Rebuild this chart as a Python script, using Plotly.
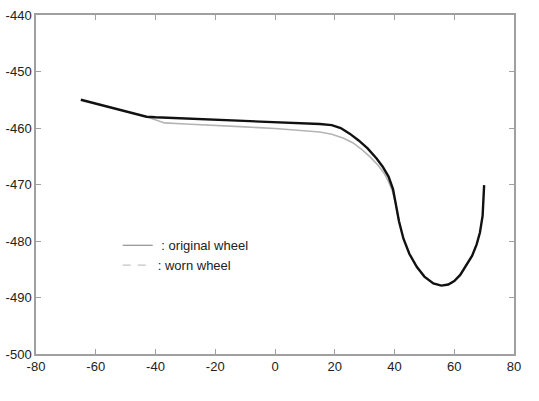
import plotly.graph_objects as go

# original wheel profile (black, thick)
x_orig = [-65, -60, -55, -50, -46, -43, -40, -30, -20, -10, 0, 8, 15, 19, 22, 25, 28, 31, 34, 36, 38, 39.5, 40.5, 41.5, 43, 45, 47.5, 50, 53, 55.7, 58, 60, 62, 64, 66, 67.5, 68.6, 69.5, 70]
y_orig = [-455.0, -455.7, -456.4, -457.1, -457.7, -458.0, -458.1, -458.3, -458.5, -458.7, -458.9, -459.1, -459.3, -459.5, -460.0, -461.0, -462.2, -463.6, -465.4, -466.8, -468.6, -470.8, -473.5, -476.5, -479.6, -482.3, -484.6, -486.3, -487.5, -487.9, -487.7, -487.1, -486.0, -484.4, -482.6, -480.6, -478.5, -475.5, -470.1]

# worn wheel profile (light gray)
x_worn = [-43, -40, -37, -30, -20, -10, 0, 8, 15, 19, 23, 26, 29, 32, 34.5, 36.5, 38, 39.3, 40.5, 41.5]
y_worn = [-458.0, -458.6, -459.1, -459.3, -459.5, -459.8, -460.1, -460.4, -460.7, -461.1, -461.8, -462.6, -463.8, -465.2, -466.6, -468.0, -469.5, -471.2, -473.6, -476.5]

x_ticks = [-80, -60, -40, -20, 0, 20, 40, 60, 80]
y_ticks = [-440, -450, -460, -470, -480, -490, -500]
legend_names = ["\u00a0: original wheel", ": worn wheel"]

FONT = "Liberation Sans, Arial, Helvetica, sans-serif"

fig = go.Figure()
fig.add_trace(go.Scatter(x=x_worn, y=y_worn, mode="lines",
                         line=dict(color="#b4b4b4", width=1.6), showlegend=False))
fig.add_trace(go.Scatter(x=x_orig, y=y_orig, mode="lines",
                         line=dict(color="#111111", width=2.4), showlegend=False))
# legend entries
fig.add_trace(go.Scatter(x=[None], y=[None], mode="lines", name=legend_names[0],
                         line=dict(color="#7a7a7a", width=1.1)))
fig.add_trace(go.Scatter(x=[None], y=[None], mode="lines", name=legend_names[1],
                         line=dict(color="#c4c4c4", width=1.1, dash="8px,7px")))

axis_common = dict(
    showgrid=False, zeroline=False, showline=True, linecolor="#a0a0a0", linewidth=1.5,
    mirror="ticks", ticks="inside", ticklen=5, tickcolor="#a0a0a0", tickwidth=1.2,
    automargin=False,
    tickfont=dict(family=FONT, size=13, color="#222222"),
)
fig.update_xaxes(range=[-80, 80], tickvals=x_ticks, ticktext=[str(v) for v in x_ticks], **axis_common)
fig.update_yaxes(range=[-500, -440], tickvals=y_ticks, ticktext=[str(v) for v in y_ticks], **axis_common)

fig.update_layout(
    width=539, height=401,
    margin=dict(l=36, r=25, t=15, b=47),
    paper_bgcolor="white", plot_bgcolor="white",
    font=dict(family=FONT, size=13, color="#222222"),
    legend=dict(x=0.171, y=0.365, xanchor="left", yanchor="top", bgcolor="rgba(0,0,0,0)",
                font=dict(family=FONT, size=13, color="#222222"), tracegroupgap=0, itemwidth=30),
)

fig.write_html("out.html", config={"displayModeBar": False},
               post_script="document.body.style.margin='0px';")
